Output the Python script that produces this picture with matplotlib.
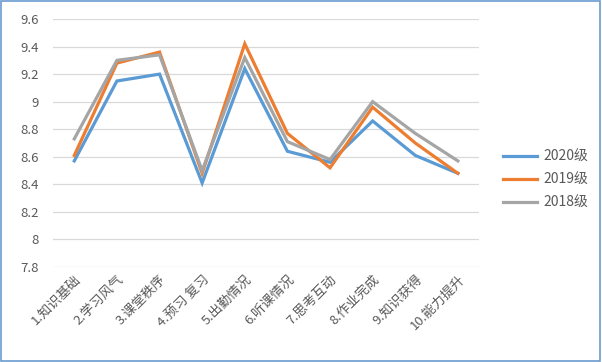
import matplotlib.pyplot as plt
import matplotlib.patches as patches
import numpy as np

plt.rcParams['font.family'] = ['Noto Sans CJK SC', 'DejaVu Sans']

# Data
categories = ["1.知识基础", "2.学习风气", "3.课堂秩序", "4.预习 复习", "5.出勤情况",
              "6.听课情况", "7.思考互动", "8.作业完成", "9.知识获得", "10.能力提升"]
grade_2020 = [8.57, 9.15, 9.20, 8.41, 9.24, 8.64, 8.56, 8.86, 8.61, 8.48]
grade_2019 = [8.61, 9.28, 9.36, 8.48, 9.42, 8.77, 8.52, 8.96, 8.70, 8.48]
grade_2018 = [8.73, 9.30, 9.34, 8.50, 9.32, 8.71, 8.58, 9.00, 8.77, 8.57]
series_names = ["2020级", "2019级", "2018级"]
yticks = [7.8, 8, 8.2, 8.4, 8.6, 8.8, 9, 9.2, 9.4, 9.6]
ytick_labels = ["7.8", "8", "8.2", "8.4", "8.6", "8.8", "9", "9.2", "9.4", "9.6"]

colors = ["#5B9BD5", "#ED7D31", "#A5A5A5"]
text_color = "#595959"

fig = plt.figure(figsize=(6.02, 3.62), dpi=100)
ax = fig.add_axes([0.088, 0.2624, 0.708, 0.6851])

x = np.arange(len(categories))
lines = []
for vals, name, c in zip([grade_2020, grade_2019, grade_2018], series_names, colors):
    ln, = ax.plot(x, vals, color=c, linewidth=2.3, label=name, solid_joinstyle="miter")
    lines.append(ln)

ax.set_xlim(-0.5, len(categories) - 0.5)
ax.set_ylim(7.8, 9.6)
ax.set_yticks(yticks)
ax.set_yticklabels(ytick_labels, fontsize=9.5, color=text_color)
ax.set_xticks(x)
ax.set_xticklabels(categories, fontsize=9.5, color=text_color,
                   rotation=45, ha="right", rotation_mode="anchor")

ax.yaxis.grid(True, color="#D9D9D9", linewidth=0.9)
ax.set_axisbelow(True)
ax.tick_params(axis="both", length=0)
ax.tick_params(axis="y", pad=10)
ax.tick_params(axis="x", pad=4)
for s in ax.spines.values():
    s.set_visible(False)

fig.legend(handles=lines, loc="center left", bbox_to_anchor=(0.835, 0.503),
           frameon=False, fontsize=10, labelcolor=text_color, handlelength=2.5,
           handletextpad=0.4, labelspacing=0.65, borderaxespad=0, borderpad=0)

# Chart border
fig.patches.append(patches.Rectangle((0.002, 0.003), 0.995, 0.993,
                                     transform=fig.transFigure, fill=False,
                                     edgecolor="#6A9BD1", linewidth=1.2))

fig.savefig("out.png", dpi=100)
